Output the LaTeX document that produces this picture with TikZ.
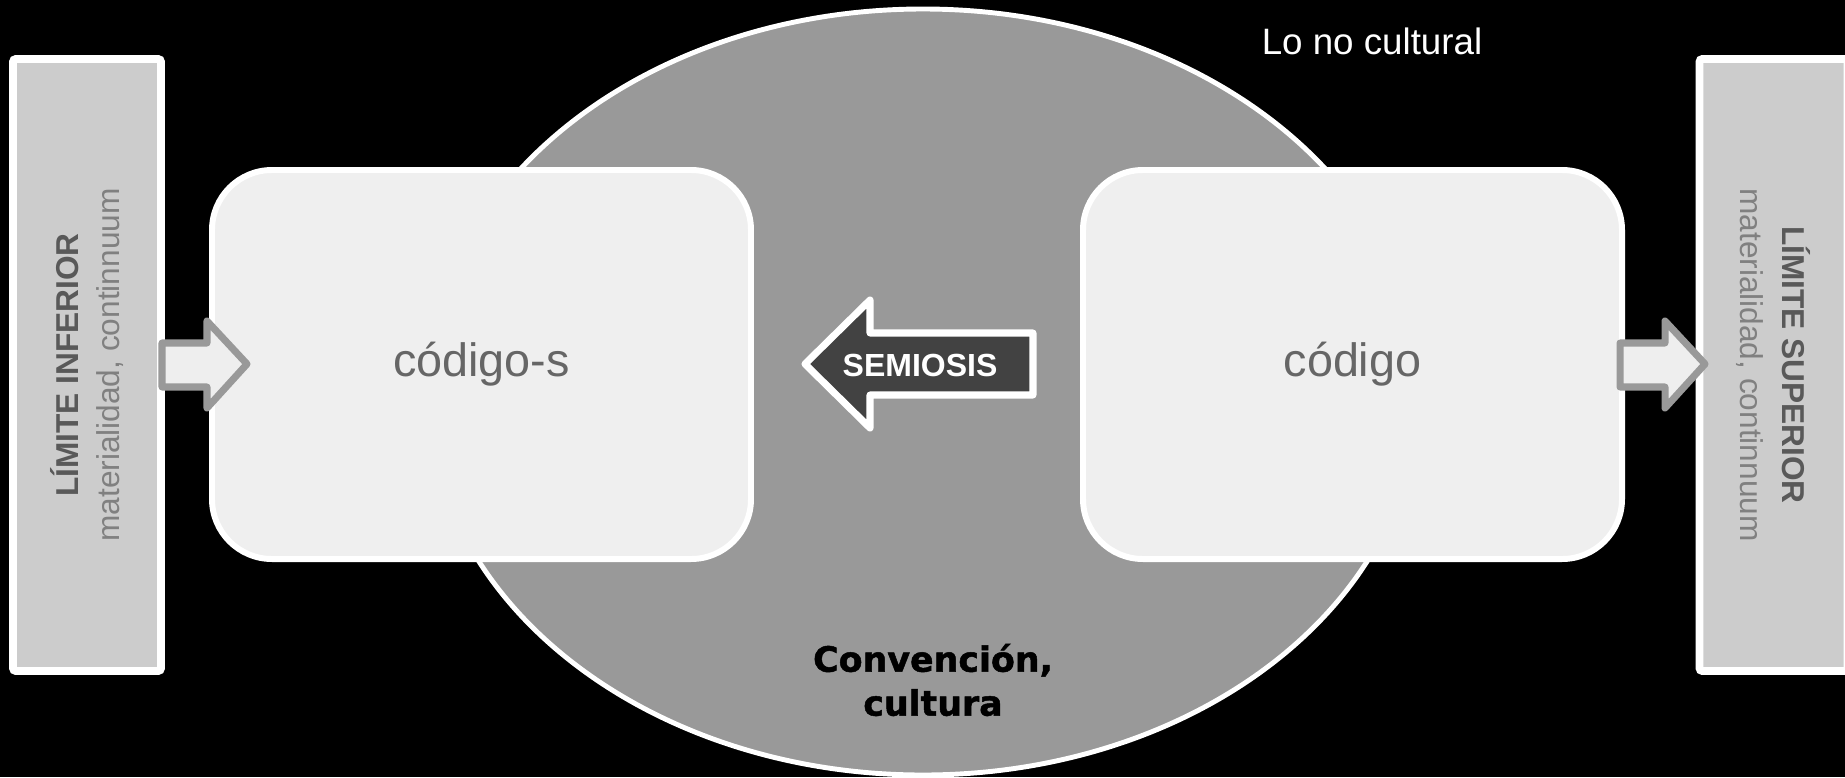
\documentclass[tikz,border=0pt]{standalone}
\usepackage{fontspec}
\setmainfont{Liberation Sans}
\newfontfamily\heavyfont[BoldFeatures={FakeBold=1.4}]{DejaVu Sans}
\usetikzlibrary{shapes.geometric}

\definecolor{barfill}{HTML}{CCCCCC}
\definecolor{ellfill}{HTML}{999999}
\definecolor{boxfill}{HTML}{EFEFEF}
\definecolor{codetext}{HTML}{666666}
\definecolor{limbold}{HTML}{595959}
\definecolor{limthin}{HTML}{808080}
\definecolor{semfill}{HTML}{424242}
\definecolor{smallfill}{HTML}{EEEEEE}
\definecolor{smallline}{HTML}{999999}

\begin{document}
\begin{tikzpicture}[x=0.2mm, y=-0.2mm,
  limite/.style={draw=white, line width=4.5pt, fill=barfill, rounded corners=0.6mm,
    minimum width=122.4mm, minimum height=29.6mm, inner sep=0pt, align=center,
    font=\fontsize{18}{23.5}\selectfont},
  codigo/.style={draw=white, line width=3.4pt, fill=boxfill, rounded corners=12mm,
    minimum width=107.8mm, minimum height=77.8mm, text=codetext,
    font=\fontsize{26.6}{32}\selectfont},
  semarrow/.style={draw=white, line width=4pt, fill=semfill, line join=round},
  smallarrow/.style={draw=smallline, line width=4pt, fill=smallfill, line join=round}]

   % background
   \useasboundingbox (0,0) rectangle (1845,777);
   \fill[black] (0,0) rectangle (1845,777);

   % limits
   \node[limite, rotate=90] (inferior) at (87,365)
     {{\bfseries\color{limbold}LÍMITE INFERIOR}\\{\color{limthin}materialidad, continnuum}};
   \node[limite, rotate=-90] (superior) at (1773.5,365)
     {{\bfseries\color{limbold}LÍMITE SUPERIOR}\\{\color{limthin}materialidad, continnuum}};

   % culture
   \node[ellipse, draw=white, line width=2.8pt, fill=ellfill, inner sep=0pt,
     minimum width=198mm, minimum height=153.2mm] (cultura) at (923,392) {};

   % codes
   \node[codigo] (codigos) at (481.5,364.5) {código-s};
   \node[codigo] (codigo) at (1352.5,364.5) {código};

   % semiosis arrow
   \draw[semarrow] (805,364) -- (870,300) -- (870,333) -- (1033,333)
     -- (1033,395) -- (870,395) -- (870,428) -- cycle;
   \node[text=white, font=\bfseries\fontsize{18.2}{22}\selectfont] (semiosis) at (920,365) {SEMIOSIS};

   % limit arrows
   \draw[smallarrow] (162,343) -- (207,343) -- (207,321) -- (247,364)
     -- (207,408) -- (207,387) -- (162,387) -- cycle;
   \draw[smallarrow] (1620,343) -- (1665,343) -- (1665,321) -- (1705,364)
     -- (1665,408) -- (1665,387) -- (1620,387) -- cycle;

   % labels
   \node[text=white, font=\fontsize{20.9}{25}\selectfont] (nocultural) at (1372,41) {Lo no cultural};
   \node[align=center, font=\heavyfont\bfseries\fontsize{19.8}{25}\selectfont] (convencion) at (933,680)
     {Convención,\\cultura};
\end{tikzpicture}
\end{document}
